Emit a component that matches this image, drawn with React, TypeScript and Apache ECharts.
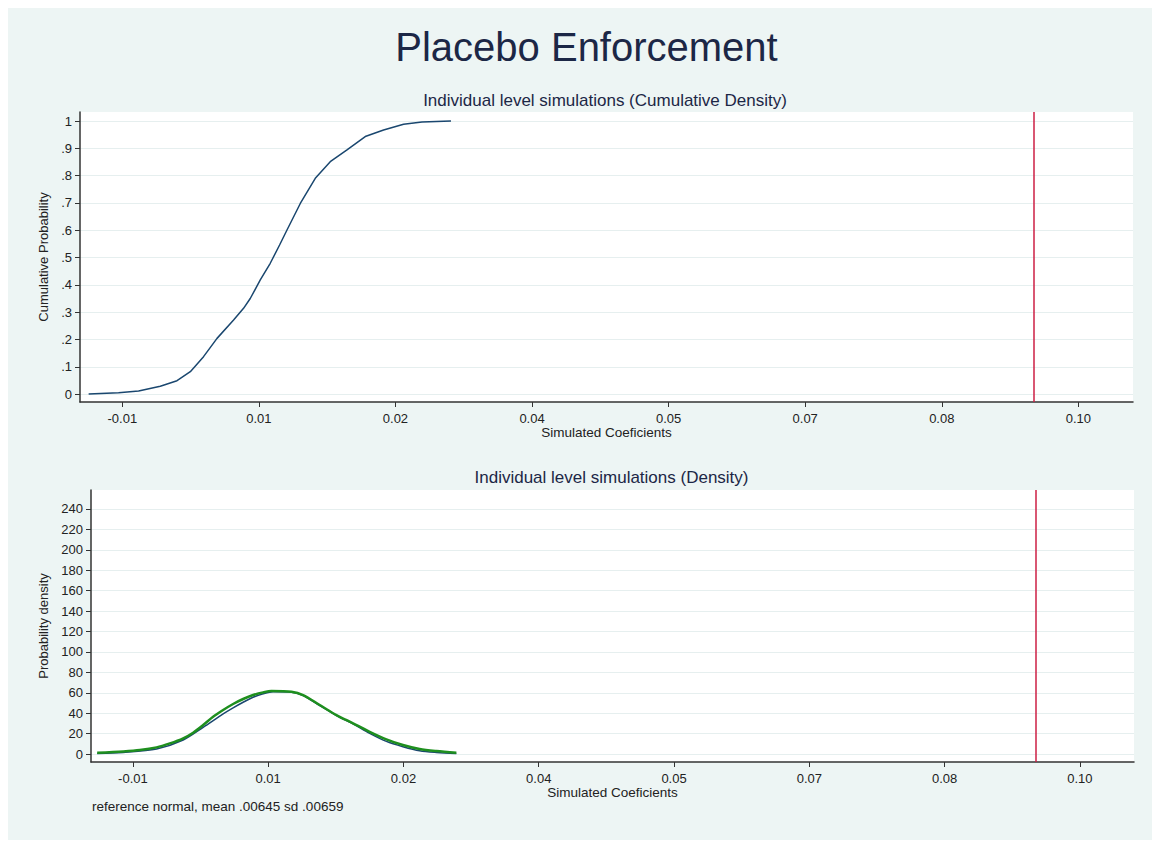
import React, { useEffect, useRef } from "react";
import * as echarts from "echarts";

// ---- Data ----
const xTickValues = [-0.0104, 0.0051, 0.0206, 0.0361, 0.0516, 0.0671, 0.0826, 0.0981];
const xTickLabels = ["-0.01", "0.01", "0.02", "0.04", "0.05", "0.07", "0.08", "0.10"];

const topYTickValues = [0, 0.1, 0.2, 0.3, 0.4, 0.5, 0.6, 0.7, 0.8, 0.9, 1];
const topYTickLabels = ["0", ".1", ".2", ".3", ".4", ".5", ".6", ".7", ".8", ".9", "1"];

const bottomYTickValues = [0, 20, 40, 60, 80, 100, 120, 140, 160, 180, 200, 220, 240];
const bottomYTickLabels = ["0", "20", "40", "60", "80", "100", "120", "140", "160", "180", "200", "220", "240"];

// Empirical cumulative distribution of simulated coefficients
const cdfX = [-0.01422, -0.01082, -0.00855, -0.00609, -0.00419, -0.00268, -0.00118, 0.00035, 0.00223, 0.00336, 0.00412, 0.00526, 0.00639, 0.00745, 0.00829, 0.0098, 0.0115, 0.0132, 0.0151, 0.01717, 0.01925, 0.02152, 0.02361, 0.0269];
const cdfY = [0, 0.005, 0.011, 0.029, 0.049, 0.082, 0.137, 0.204, 0.271, 0.314, 0.35, 0.418, 0.479, 0.546, 0.601, 0.698, 0.79, 0.851, 0.894, 0.943, 0.967, 0.988, 0.996, 1.0];

// Reference normal density (navy)
const normalX = [-0.01449, -0.01151, -0.00769, -0.00464, -0.00235, -0.00006, 0.00108, 0.00223, 0.00337, 0.00452, 0.00566, 0.00777, 0.0091, 0.01101, 0.01292, 0.01482, 0.01673, 0.01864, 0.02054, 0.02245, 0.02437, 0.02666];
const normalY = [0.5, 1.6, 5, 13.8, 26.2, 39.3, 45.2, 50.7, 55.6, 59, 61, 60.6, 57.3, 47.5, 37.7, 29.5, 20.3, 12.4, 7.2, 3.2, 1.6, 0.6];

// Kernel density of simulations (green)
const kdensX = [-0.01449, -0.01151, -0.0096, -0.00769, -0.00616, -0.00464, -0.0035, -0.00235, -0.00121, -0.00006, 0.00108, 0.00223, 0.00337, 0.00452, 0.00548, 0.00777, 0.0091, 0.01101, 0.01292, 0.01482, 0.01673, 0.01864, 0.02054, 0.02245, 0.02437, 0.02666];
const kdensY = [1.3, 2.6, 3.9, 6.5, 10.4, 15.4, 20.9, 28.4, 36.5, 43.1, 49, 53.9, 57.8, 60.4, 61.7, 61, 57.8, 48, 38.2, 30.1, 21.8, 14.4, 8.8, 4.9, 2.9, 1.3];

const observedCoefficient = 0.093;

const FONT = "'Liberation Sans', Arial, Helvetica, sans-serif";
const NAVY = "#1a476f";
const GREEN = "#1e8f1e";
const RED = "#cc1f45";
const AXIS = "#333333";
const TEXT = "#222222";
const TITLE = "#1c2746";

function labelFor(v: number, values: number[], labels: string[]) {
  for (let i = 0; i < values.length; i++) {
    if (Math.abs(values[i] - v) < 1e-9) return labels[i];
  }
  return "";
}

function zip(xs: number[], ys: number[]) {
  return xs.map((x, i) => [x, ys[i]]);
}

function makeX(gridIndex: number, min: number, max: number) {
  return {
    type: "value",
    gridIndex,
    min,
    max,
    axisLine: { show: true, onZero: false, lineStyle: { color: AXIS, width: 1.5 } },
    axisTick: { show: true, length: 5, customValues: xTickValues, lineStyle: { color: AXIS, width: 1 } },
    axisLabel: {
      customValues: xTickValues,
      formatter: (v: number) => labelFor(v, xTickValues, xTickLabels),
      margin: 10,
      fontSize: 13,
      color: TEXT,
      fontFamily: FONT,
    },
    splitLine: { show: false },
    name: "Simulated Coeficients",
    nameLocation: "middle",
    nameGap: 17,
    nameTextStyle: { fontSize: 13.5, color: TEXT, fontFamily: FONT },
  };
}

function makeY(gridIndex: number, min: number, max: number, values: number[], labels: string[], name: string, nameGap: number) {
  return {
    type: "value",
    gridIndex,
    min,
    max,
    axisLine: { show: true, onZero: false, lineStyle: { color: AXIS, width: 1.5 } },
    axisTick: { show: true, length: 5, customValues: values, lineStyle: { color: AXIS, width: 1 } },
    axisLabel: {
      customValues: values,
      formatter: (v: number) => labelFor(v, values, labels),
      margin: 8,
      fontSize: 13,
      color: TEXT,
      fontFamily: FONT,
    },
    splitLine: { show: true, lineStyle: { color: "#e6efef", width: 1 } },
    name,
    nameLocation: "middle",
    nameRotate: 90,
    nameGap,
    nameTextStyle: { fontSize: 13, color: TEXT, fontFamily: FONT },
  };
}

const markLine = {
  silent: true,
  precision: 6,
  symbol: ["none", "none"],
  label: { show: false },
  lineStyle: { color: RED, width: 1.5, type: "solid" },
  data: [{ xAxis: observedCoefficient }],
};

export default function App() {
  const ref = useRef<HTMLDivElement>(null);

  useEffect(() => {
    if (!ref.current) return;
    const chart = echarts.init(ref.current, undefined, { renderer: "svg" });
    chart.setOption({
      animation: false,
      backgroundColor: "#edf5f4",
      graphic: [
        {
          type: "text",
          x: 578.5,
          y: 39,
          style: { text: "Placebo Enforcement", fontSize: 40, fontFamily: FONT, fill: TITLE, align: "center", verticalAlign: "middle" },
        },
        {
          type: "text",
          x: 597,
          y: 92,
          style: { text: "Individual level simulations (Cumulative Density)", fontSize: 17, fontFamily: FONT, fill: TITLE, align: "center", verticalAlign: "middle" },
        },
        {
          type: "text",
          x: 603.5,
          y: 469,
          style: { text: "Individual level simulations (Density)", fontSize: 17, fontFamily: FONT, fill: TITLE, align: "center", verticalAlign: "middle" },
        },
        {
          type: "text",
          x: 84,
          y: 798,
          style: { text: "reference normal, mean .00645 sd .00659", fontSize: 13.5, fontFamily: FONT, fill: TEXT, align: "left", verticalAlign: "middle" },
        },
      ],
      grid: [
        { left: 72, top: 104, width: 1053, height: 290, show: true, backgroundColor: "#ffffff", borderWidth: 0 },
        { left: 83, top: 482, width: 1043, height: 272, show: true, backgroundColor: "#ffffff", borderWidth: 0 },
      ],
      xAxis: [makeX(0, -0.0152, 0.1043), makeX(1, -0.0152, 0.1043)],
      yAxis: [
        makeY(0, -0.029, 1.033, topYTickValues, topYTickLabels, "Cumulative Probability", 26),
        makeY(1, -7.8, 258.6, bottomYTickValues, bottomYTickLabels, "Probability density", 37),
      ],
      series: [
        {
          name: "Cumulative",
          type: "line",
          xAxisIndex: 0,
          yAxisIndex: 0,
          data: zip(cdfX, cdfY),
          showSymbol: false,
          lineStyle: { color: NAVY, width: 1.5 },
          markLine,
        },
        {
          name: "Normal",
          type: "line",
          xAxisIndex: 1,
          yAxisIndex: 1,
          data: zip(normalX, normalY),
          showSymbol: false,
          smooth: 0.3,
          lineStyle: { color: NAVY, width: 1.5 },
          markLine,
        },
        {
          name: "Kernel density",
          type: "line",
          xAxisIndex: 1,
          yAxisIndex: 1,
          data: zip(kdensX, kdensY),
          showSymbol: false,
          smooth: 0.3,
          lineStyle: { color: GREEN, width: 2.5 },
        },
      ],
    });
    return () => chart.dispose();
  }, []);

  return <div ref={ref} style={{ width: 1146, height: 832 }} />;
}
